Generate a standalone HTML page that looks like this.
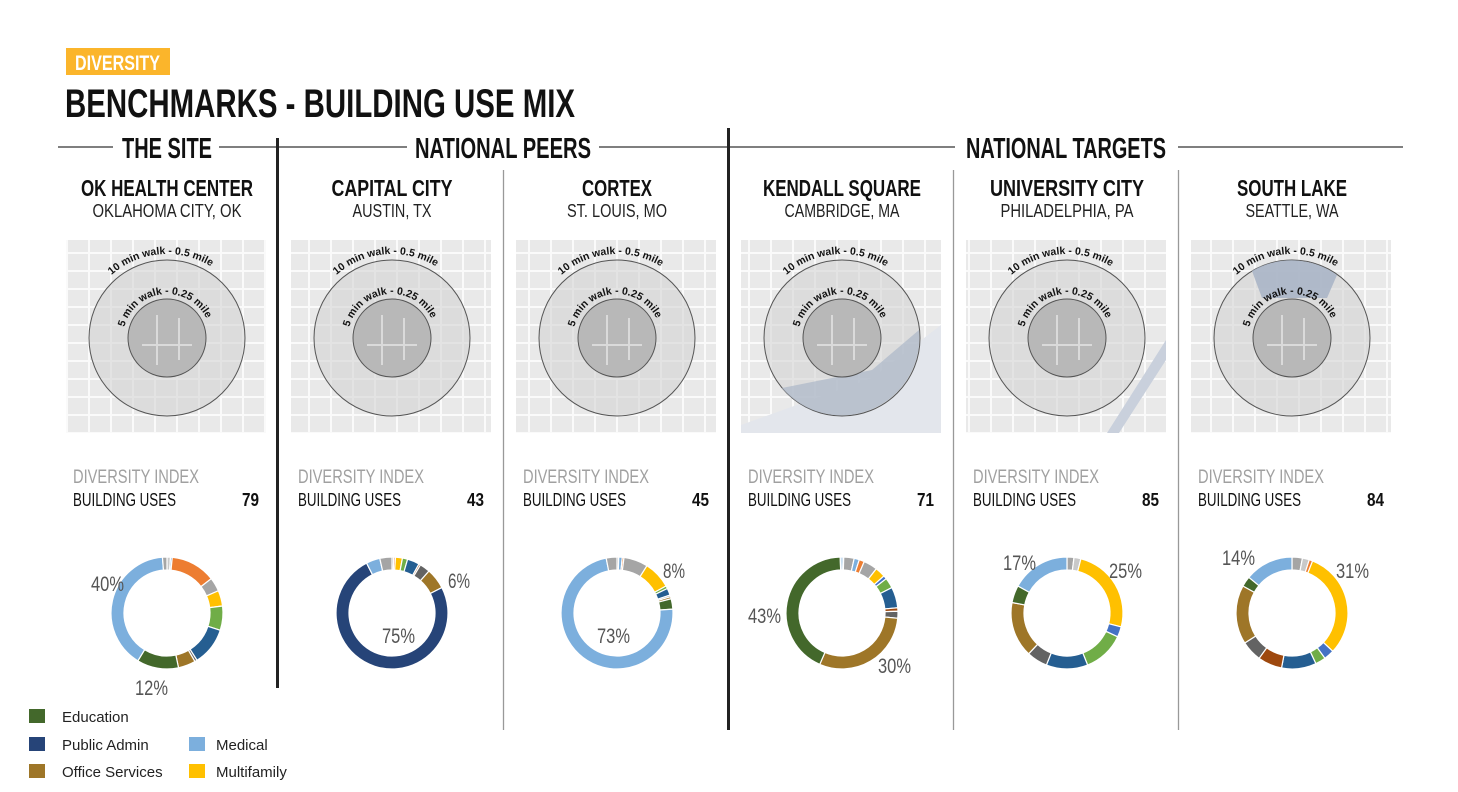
<!DOCTYPE html>
<html><head><meta charset="utf-8"><style>
body{margin:0;background:#fff;}
svg{display:block;font-family:"Liberation Sans Narrow","Liberation Sans",sans-serif;}
</style></head><body>
<svg id="root" width="1458" height="792" viewBox="0 0 1458 792" xmlns="http://www.w3.org/2000/svg">
<defs>
<pattern id="streets" width="22" height="18" patternUnits="userSpaceOnUse">
<rect width="22" height="18" fill="#e9e9e9"/>
<rect x="0" y="0" width="22" height="2" fill="#fafafa"/>
<rect x="0" y="0" width="2" height="18" fill="#fafafa"/>
</pattern>
</defs>
<rect x="66" y="48" width="104" height="27" fill="#fbb52b"/>
<text x="75" y="70" font-size="21" font-weight="bold" fill="#fff" textLength="85" lengthAdjust="spacingAndGlyphs">DIVERSITY</text>
<text x="65" y="117" font-size="40" font-weight="bold" fill="#111" textLength="510" lengthAdjust="spacingAndGlyphs">BENCHMARKS - BUILDING USE MIX</text>

<g stroke="#333" stroke-width="1.2">
<line x1="58" y1="147" x2="113" y2="147"/><line x1="219" y1="147" x2="277" y2="147"/>
<line x1="278" y1="147" x2="407" y2="147"/><line x1="599" y1="147" x2="728" y2="147"/>
<line x1="728" y1="147" x2="955" y2="147"/><line x1="1178" y1="147" x2="1403" y2="147"/>
</g>
<text x="122" y="158" font-size="29" font-weight="bold" fill="#111" textLength="90" lengthAdjust="spacingAndGlyphs">THE SITE</text>
<text x="415" y="158" font-size="29" font-weight="bold" fill="#111" textLength="176" lengthAdjust="spacingAndGlyphs">NATIONAL PEERS</text>
<text x="966" y="158" font-size="29" font-weight="bold" fill="#111" textLength="200" lengthAdjust="spacingAndGlyphs">NATIONAL TARGETS</text>

<g>
<line x1="277.5" y1="138" x2="277.5" y2="688" stroke="#222" stroke-width="3"/>
<line x1="728.5" y1="128" x2="728.5" y2="730" stroke="#222" stroke-width="3"/>
<line x1="503.5" y1="170" x2="503.5" y2="730" stroke="#999" stroke-width="1.3"/>
<line x1="953.5" y1="170" x2="953.5" y2="730" stroke="#999" stroke-width="1.3"/>
<line x1="1178.5" y1="170" x2="1178.5" y2="730" stroke="#999" stroke-width="1.3"/>
</g>
<g id="cols"></g>

<g font-family="Liberation Sans, sans-serif" font-size="15" fill="#222">
<rect x="29" y="709" width="16" height="14" fill="#43682b"/>
<text x="62" y="722">Education</text>
<rect x="29" y="737" width="16" height="14" fill="#264478"/>
<text x="62" y="750">Public Admin</text>
<rect x="189" y="737" width="16" height="14" fill="#7cafdd"/>
<text x="216" y="750">Medical</text>
<rect x="29" y="764" width="16" height="14" fill="#9e7628"/>
<text x="62" y="777">Office Services</text>
<rect x="189" y="764" width="16" height="14" fill="#ffc000"/>
<text x="216" y="777">Multifamily</text>
</g>
</svg>
<script>
const NS="http://www.w3.org/2000/svg";
const titles=["OK HEALTH CENTER","CAPITAL CITY","CORTEX","KENDALL SQUARE","UNIVERSITY CITY","SOUTH LAKE"];
const subtitles=["OKLAHOMA CITY, OK","AUSTIN, TX","ST. LOUIS, MO","CAMBRIDGE, MA","PHILADELPHIA, PA","SEATTLE, WA"];
const indexValues=[79,43,45,71,85,84];
const palette={education:"#43682b",publicadmin:"#264478",office:"#9e7628",medical:"#7cafdd",multifamily:"#ffc000",orange:"#ed7d31",gray:"#a5a5a5",lgray:"#c9c9c9",green:"#70ad47",blue:"#255e91",blue2:"#4472c4",dgray:"#636363",rust:"#9e480e"};
const donutCats=[
["lgray","medical","orange","gray","multifamily","green","blue","dgray","office","education","medical","gray"],
["gray","orange","multifamily","green","blue","rust","dgray","office","publicadmin","medical","gray"],
["gray","medical","orange","gray","multifamily","green","blue","gray","office","education","medical","gray"],
["medical","gray","medical","orange","gray","multifamily","blue2","green","blue","rust","dgray","office","education","medical"],
["gray","lgray","multifamily","blue2","green","blue","dgray","office","education","medical"],
["gray","lgray","orange","multifamily","blue2","green","blue","rust","dgray","office","education","medical"]];
const donutVals=[
[1,0.5,13,4,4.5,7,11,0.7,5,12,40,1.3],
[0.5,0.5,2,1.5,3.5,0.5,3,6,75,4,3.5],
[0.5,1,0.5,7,8,0.8,2,0.5,0.6,3,73,3.1],
[0.5,3,1.5,1.5,4,3,1,3,6,1,2,30,43,0.5],
[2,2,25,3,12,12,6,16,5,17],
[3,2,1,31,3,3,10,7,6,17,3,14]];
const labelTexts=[["40%","12%"],["6%","75%"],["8%","73%"],["43%","30%"],["17%","25%"],["14%","31%"]];
const labelOffsets=[[[-76,-22],[-32,82]],[[56,-25],[-10,30]],[[46,-35],[-20,30]],[[-94,10],[36,60]],[[-64,-43],[42,-35]],[[-70,-48],[44,-35]]];
const titleW=[172,121,70,158,154,110];
const subW=[149,79,100,115,133,93];
const root=document.getElementById("cols");
function mk(tag,attrs,parent){const e=document.createElementNS(NS,tag);for(const k in attrs)e.setAttribute(k,attrs[k]);(parent||root).appendChild(e);return e;}
function pt(cx,cy,r,a){return [cx+r*Math.sin(a),cy-r*Math.cos(a)];}
titles.forEach((t,i)=>{
 const cx=167+225*i;
 const g=mk("g",{});
 
 
 let e=mk("text",{x:cx,y:196,"text-anchor":"middle","font-size":23,"font-weight":"bold",fill:"#111",textLength:titleW[i],lengthAdjust:"spacingAndGlyphs"},g);e.textContent=t;
 
 
 e=mk("text",{x:cx,y:217,"text-anchor":"middle","font-size":18,fill:"#222",textLength:subW[i],lengthAdjust:"spacingAndGlyphs"},g);e.textContent=subtitles[i];
 
 
 const m=mk("g",{},g);
 
 
 mk("rect",{x:cx-101,y:240,width:200,height:193,fill:"url(#streets)"},m);
 if(i==3){mk("path",{d:`M${cx-101} 425 L${cx+30} 378 L${cx+99} 325 L${cx+99} 433 L${cx-101} 433Z`,fill:"#e3e6ec"},m);}
 if(i==4){mk("path",{d:`M${cx+40} 433 L${cx+99} 340 L${cx+99} 360 L${cx+52} 433Z`,fill:"#c9d0dc"},m);}
 mk("circle",{cx:cx,cy:338,r:78,fill:"#d4d4d4","fill-opacity":0.6,stroke:"#555","stroke-width":1},m);
 if(i==3){mk("path",{d:`M${cx-60} 388 L${cx+30} 370 L${cx+77} 330 A78 78 0 0 1 ${cx-60} 388Z`,fill:"#b2bccb",opacity:0.8},m);}
 if(i==5){mk("path",{d:`M${cx-40} 271 A78 78 0 0 1 ${cx+45} 275 L${cx+35} 298 L${cx-30} 298Z`,fill:"#aab5c6",opacity:0.9},m);}
 mk("circle",{cx:cx,cy:338,r:39,fill:"#b8b8b8",stroke:"#555","stroke-width":1},m);
 mk("path",{d:`M${cx-25} 345 L${cx+25} 345 M${cx-10} 315 L${cx-10} 365 M${cx+12} 318 L${cx+12} 360`,stroke:"#dadada","stroke-width":2,fill:"none"},m);
 mk("path",{id:"arcO"+i,d:`M${cx-84} 338 A84 84 0 0 1 ${cx+84} 338`,fill:"none"},m);
 mk("path",{id:"arcI"+i,d:`M${cx-44} 338 A44 44 0 0 1 ${cx+44} 338`,fill:"none"},m);
 let tx=mk("text",{"font-size":10.5,fill:"#111","font-weight":"bold"},m);
 let tp=mk("textPath",{href:"#arcO"+i,startOffset:"27%"},tx);tp.textContent="10 min walk - 0.5 mile";
 tx=mk("text",{"font-size":10.5,fill:"#111","font-weight":"bold"},m);
 tp=mk("textPath",{href:"#arcI"+i,startOffset:"8%"},tx);tp.textContent="5 min walk - 0.25 mile";
 e=mk("text",{x:cx-94,y:483,"font-size":19,fill:"#a0a0a0",textLength:126,lengthAdjust:"spacingAndGlyphs"},g);e.textContent="DIVERSITY INDEX";
 
 
 e=mk("text",{x:cx-94,y:506,"font-size":18,fill:"#111",textLength:103,lengthAdjust:"spacingAndGlyphs"},g);e.textContent="BUILDING USES";
 
 
 e=mk("text",{x:cx+92,y:506,"text-anchor":"end","font-size":18,"font-weight":"bold",fill:"#111",textLength:17,lengthAdjust:"spacingAndGlyphs"},g);e.textContent=indexValues[i];
 
 
 const vals=donutVals[i],cats=donutCats[i];const tot=vals.reduce((a,b)=>a+b,0);
 const dy=613,R=56,r=43;let a0=0;
 const dg=mk("g",{},g);
 
 
 vals.forEach((v,k)=>{
  const a1=a0+v/tot*2*Math.PI;const lg=(a1-a0)>Math.PI?1:0;
  const [x1,y1]=pt(cx,dy,R,a0),[x2,y2]=pt(cx,dy,R,a1),[x3,y3]=pt(cx,dy,r,a1),[x4,y4]=pt(cx,dy,r,a0);
  const s=mk("path",{d:`M${x1} ${y1} A${R} ${R} 0 ${lg} 1 ${x2} ${y2} L${x3} ${y3} A${r} ${r} 0 ${lg} 0 ${x4} ${y4}Z`,fill:palette[cats[k]],stroke:"#fff","stroke-width":1.2},dg);
  
  
  a0=a1;
 });
 labelTexts[i].forEach((lt,k)=>{
  const o=labelOffsets[i][k];
  const l=mk("text",{x:cx+o[0],y:dy+o[1],"font-size":21,fill:"#555",textLength:lt.length*11,lengthAdjust:"spacingAndGlyphs"},dg);l.textContent=lt;
  
  
 });
});
</script>
</body></html>
